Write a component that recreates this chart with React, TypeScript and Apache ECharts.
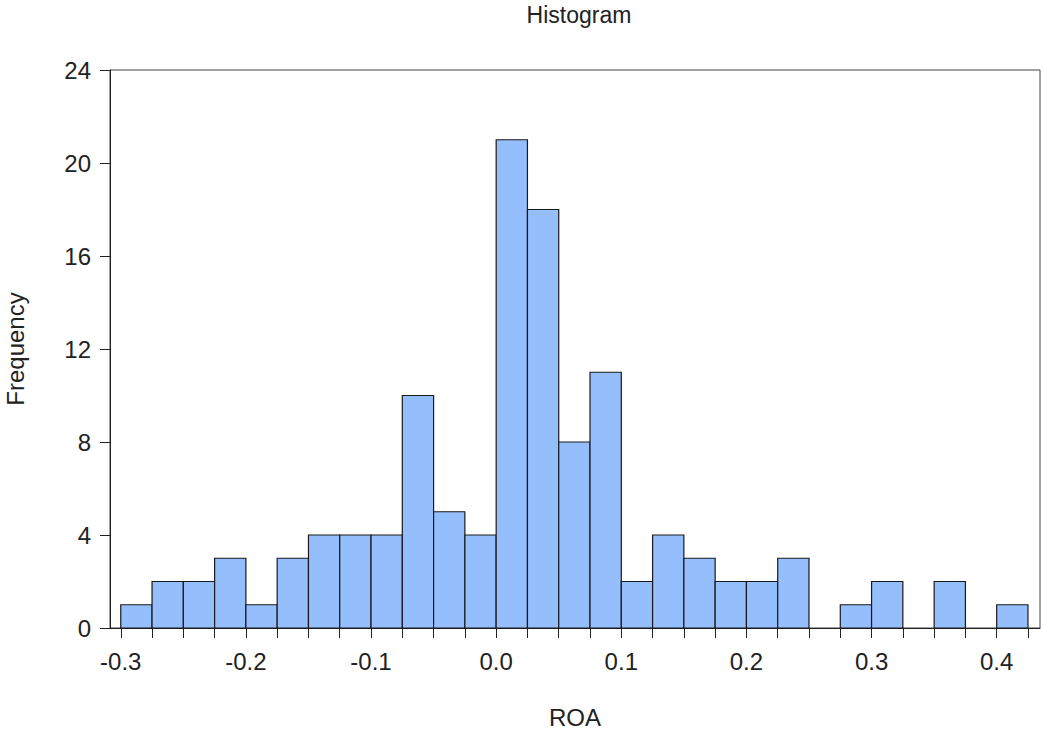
import React, { useEffect, useRef } from "react";
import * as echarts from "echarts";

const binStarts = [
  -0.3, -0.275, -0.25, -0.225, -0.2, -0.175, -0.15, -0.125, -0.1, -0.075,
  -0.05, -0.025, 0.0, 0.025, 0.05, 0.075, 0.1, 0.125, 0.15, 0.175,
  0.2, 0.225, 0.25, 0.275, 0.3, 0.325, 0.35, 0.375, 0.4,
];
const binWidth = 0.025;
const counts = [
  1, 2, 2, 3, 1, 3, 4, 4, 4, 10,
  5, 4, 21, 18, 8, 11, 2, 4, 3, 2,
  2, 3, 0, 1, 2, 0, 2, 0, 1,
];
const xLabels = [-0.3, -0.2, -0.1, 0.0, 0.1, 0.2, 0.3, 0.4];
const yTicks = [0, 4, 8, 12, 16, 20, 24];

export default function App() {
  const ref = useRef<HTMLDivElement>(null);
  useEffect(() => {
    document.body.style.margin = "0";
    const chart = echarts.init(ref.current!, null, { renderer: "svg" });
    const edges = binStarts
      .map((s) => +s.toFixed(3))
      .concat([+(binStarts[binStarts.length - 1] + binWidth).toFixed(3)]);
    const data = binStarts.map((s, i) => [s, s + binWidth, counts[i]]);
    const font = "Liberation Sans, Arial, sans-serif";
    chart.setOption({
      animation: false,
      backgroundColor: "#ffffff",
      title: {
        text: "Histogram",
        left: 574,
        top: -2,
        textAlign: "center",
        textStyle: { fontFamily: font, fontSize: 23, fontWeight: "normal", color: "#222" },
      },
      grid: {
        left: 110,
        top: 70,
        right: 3,
        bottom: 105,
        show: true,
        borderColor: "#444",
        borderWidth: 1,
        outerBoundsMode: "none",
        containLabel: false,
      },
      xAxis: {
        type: "value",
        min: -0.3086,
        max: 0.4346,
        name: "ROA",
        nameLocation: "middle",
        nameGap: 77,
        nameTextStyle: { fontFamily: font, fontSize: 24, color: "#222" },
        axisLine: { show: true, onZero: false, lineStyle: { color: "#222", width: 1 } },
        axisTick: { show: true, customValues: edges, length: 10, lineStyle: { color: "#222" } },
        axisLabel: {
          customValues: xLabels,
          formatter: (v: number) => v.toFixed(1),
          fontFamily: font,
          fontSize: 24,
          color: "#222",
          margin: 21,
        },
        splitLine: { show: false },
      },
      yAxis: {
        type: "value",
        min: 0,
        max: 24,
        interval: 4,
        name: "Frequency",
        nameLocation: "middle",
        nameGap: 83,
        nameTextStyle: { fontFamily: font, fontSize: 24, color: "#222" },
        axisLine: { show: true, onZero: false, lineStyle: { color: "#222", width: 1 } },
        axisTick: { show: true, length: 10, lineStyle: { color: "#222" } },
        axisLabel: {
          customValues: yTicks,
          fontFamily: font,
          fontSize: 24,
          color: "#222",
          margin: 19,
        },
        splitLine: { show: false },
      },
      series: [
        {
          type: "custom",
          data,
          encode: { x: [0, 1], y: 2 },
          renderItem: (params: any, api: any) => {
            const x0 = api.value(0);
            const x1 = api.value(1);
            const c = api.value(2);
            if (!c) return null;
            const p0 = api.coord([x0, c]);
            const p1 = api.coord([x1, 0]);
            return {
              type: "rect",
              shape: { x: p0[0], y: p0[1], width: p1[0] - p0[0], height: p1[1] - p0[1] },
              style: { fill: "#95BEFC", stroke: "#1a1a1a", lineWidth: 1.2 },
            };
          },
        },
      ],
    });
    return () => chart.dispose();
  }, []);
  return <div ref={ref} style={{ width: 1043, height: 733 }} />;
}
